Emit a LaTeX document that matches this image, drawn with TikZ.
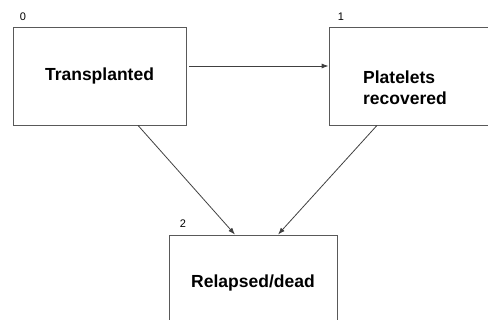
\documentclass[tikz,border=0pt]{standalone}
\usepackage{fontspec}
\setmainfont{Liberation Sans}
\usetikzlibrary{arrows.meta}
\begin{document}
\begin{tikzpicture}[x=1pt,y=-1pt, state/.style={rectangle,draw=black!65,line width=0.8pt,inner sep=0pt,font=\fontsize{17.5}{21}\selectfont\bfseries}, num/.style={inner sep=0pt,font=\fontsize{11}{13}\selectfont}, arr/.style={-{Latex[length=7pt,width=5pt]},draw=black!75,line width=0.8pt}]
  \useasboundingbox (0,0) rectangle (488,320);
  \clip (0,0) rectangle (488,320);

  \node[state,minimum width=173pt,minimum height=98pt] (s0) at (99.5,76) {Transplanted};
  \node[state,minimum width=173pt,minimum height=98pt] (s1) at (415.5,76) {};
  \node[state,minimum width=168pt,minimum height=96pt] (s2) at (253,283) {Relapsed/dead};
  \node[font=\fontsize{17.5}{21}\selectfont\bfseries,align=left,inner sep=0pt] (t1) at (405,88) {Platelets\\recovered};

  \node[num] (n0) at (23,17) {0};
  \node[num] (n1) at (341,17) {1};
  \node[num] (n2) at (183,223.5) {2};

 \draw[arr,shorten <=3pt] ([yshift=10pt]s0.east) -- ([yshift=10pt]s1.west);
 \draw[arr] ([xshift=38.5pt]s0.south) -- ([xshift=-18pt]s2.north);
 \draw[arr] ([xshift=-38.5pt]s1.south) -- ([xshift=25pt]s2.north);
\end{tikzpicture}
\end{document}
